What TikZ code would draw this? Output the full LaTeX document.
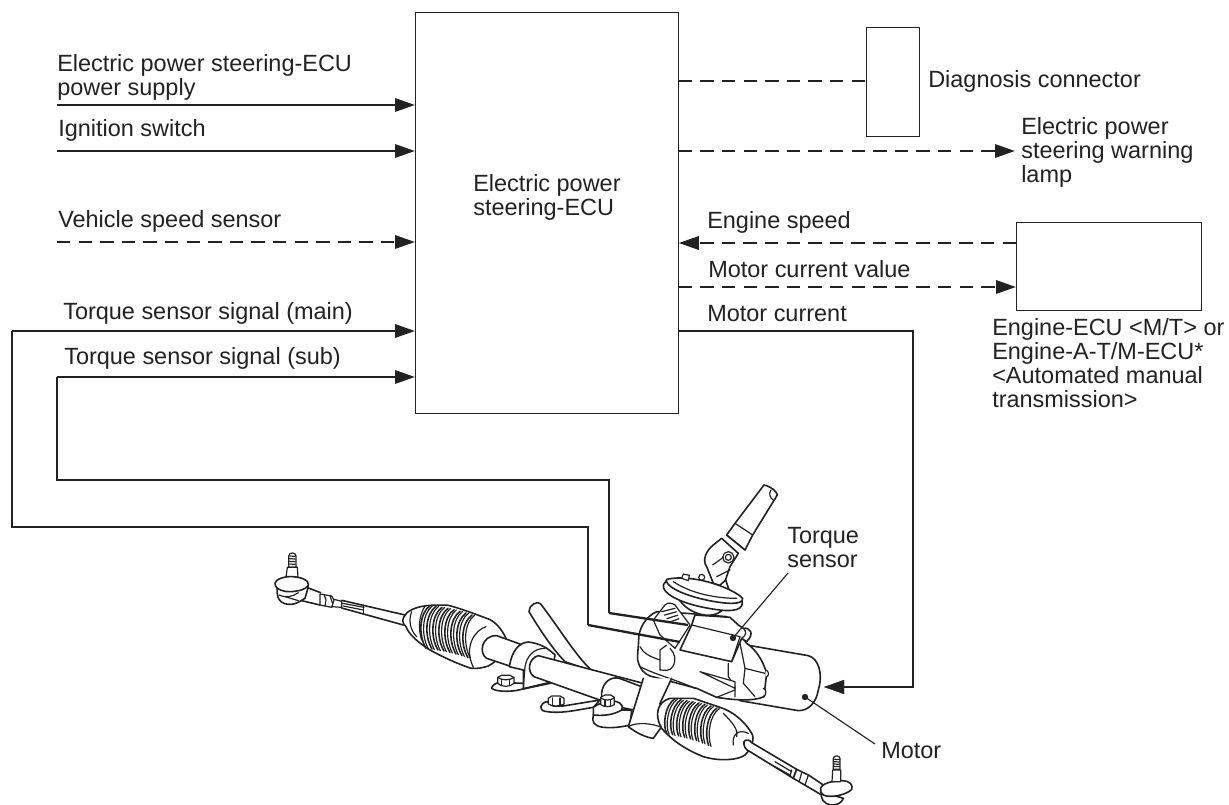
\documentclass[tikz,border=0pt]{standalone}
\usepackage{fontspec}
\setmainfont{Liberation Sans}
\usetikzlibrary{arrows.meta}
\definecolor{ink}{HTML}{222222}
\tikzset{
  lbl/.style={inner sep=0pt,anchor=base west,font=\fontsize{17.6}{18}\selectfont,align=left,text=ink},
  boxa/.style={draw=ink,line width=0.85pt,fill=white,inner sep=0pt,anchor=north west},
  wire/.style={draw=ink,line width=1.75pt},
  sig/.style={wire,-{Triangle[length=15pt,width=10pt]}},
  dsh/.style={dash pattern=on 10pt off 6.2pt},
  ldr/.style={draw=ink,line width=0.85pt},
  ol/.style={draw=ink,line width=0.9pt,line join=round,line cap=round},
  rb/.style={draw=ink,line width=1.2pt,line join=round,line cap=round},
  zA/.style={shift={(230,470)},x=0.25pt,y=-0.25pt},
  zB/.style={shift={(560,470)},x=0.25pt,y=-0.25pt},
}
\begin{document}
\begin{tikzpicture}[x=0.75pt,y=-0.75pt]
\useasboundingbox (0,0) rectangle (1229,805);
% boxes
\node[boxa,minimum width=197pt,minimum height=301pt] (ecu) at (415,12) {};
\node[boxa,minimum width=40pt,minimum height=81.5pt] (diag) at (866,27) {};
\node[boxa,minimum width=139pt,minimum height=66pt] (eng) at (1016,222) {};
% free ends
\coordinate (p1) at (57,105); \coordinate (p2) at (57,151); \coordinate (p3) at (57,242);
\coordinate (t1) at (12,331); \coordinate (t2) at (57,377);
\coordinate (lamp) at (1015,151);
\coordinate (mot) at (824,687);
\coordinate (t1e) at (680,642); \coordinate (t2e) at (688,625);
\coordinate (t1b) at (588,625); \coordinate (t2b) at (609,613);
% signals
\draw[sig] (p1) -- (p1-|ecu.west);
\draw[sig] (p2) -- (p2-|ecu.west);
\draw[sig,dsh] (p3) -- (p3-|ecu.west);
\draw[sig] (t1) -- (t1-|ecu.west);
\draw[sig] (t2) -- (t2-|ecu.west);
\draw[wire,dsh] (ecu.east|-0,81) -- (diag.west|-0,81);
\draw[sig,dsh] (ecu.east|-lamp) -- (lamp);
\draw[sig,dsh] (eng.west|-0,243) -- (ecu.east|-0,243);
\draw[sig,dsh] (ecu.east|-0,287) -- (eng.west|-0,287);
\draw[sig] (ecu.east|-0,331) -- (913,331) -- (913,687) -- (mot);
% harness
\draw[wire] (t1) -- (12,527) -- (588,527) -- (t1b);
\draw[wire] (t2) -- (57,480) -- (609,480) -- (t2b);
% ---- left half of the rack
\begin{scope}[zA]
 % stud
 \draw[ol,fill=white] (176,292) -- (176,258) .. controls (176,246) and (198,246) .. (198,258) -- (198,292) -- cycle;
 \foreach \y in {258,266,274,282} \draw[ol] (179,\y) -- (195,\y+1);
 \draw[ol,fill=white] (172,292) -- (202,292) -- (204,322) -- (168,322) -- cycle;
 % lower body
 \draw[rb,fill=white] (142,352) .. controls (138,385) and (150,405) .. (185,403) .. controls (200,402) and (212,392) .. (225,385) -- (235,350) -- cycle;
 \draw[ol] (147,375) .. controls (165,385) and (190,380) .. (205,368);
 \draw[ol] (165,380) -- (205,392);
 % cap
 \draw[rb,fill=white] (135,340) .. controls (135,328) and (165,318) .. (188,320) .. controls (215,322) and (238,330) .. (235,345) .. controls (230,360) and (190,368) .. (165,364) .. controls (145,360) and (135,352) .. (135,340) -- cycle;
 % rod
 \draw[rb] (235,354) -- (272,368); \draw[rb] (215,392) -- (270,405);
 \draw[ol,fill=white] (270,372) -- (305,378) -- (312,390) -- (305,412) -- (270,405) -- cycle;
 \draw[ol] (282,373) -- (288,390) -- (285,408);
 \draw[ol] (300,378) -- (308,400);
 \draw[ol] (312,388) -- (335,394) -- (335,412) -- (305,410);
 \draw[rb] (335,391) -- (525,435); \draw[rb] (335,414) -- (520,465);
 \draw[ol] (340,408) -- (400,420); \draw[ol] (338,400) -- (402,412);
 \draw[ol] (400,405) -- (400,430);
 % boot
 \draw[rb,fill=white] (528,432) .. controls (515,445) and (515,460) .. (528,470)
   .. controls (535,490) and (560,515) .. (600,540) .. controls (640,562) and (680,580) .. (720,594)
   .. controls (745,598) and (760,592) .. (775,588) .. controls (810,570) and (832,530) .. (828,505)
   .. controls (815,475) and (790,450) .. (770,445) .. controls (730,430) and (690,415) .. (655,406)
   .. controls (620,404) and (580,405) .. (555,415) .. controls (540,420) and (530,428) .. (528,432) -- cycle;
 \foreach \a/\d in {600/0,618/2,636/5,654/8,672/12,690/17,708/22,726/28}{
   \draw[rb] (\a,407+\d) .. controls (\a-32,430+\d) and (\a-36,495+\d) .. (\a-12,535+\d);
   \draw[ol] (\a+7,408+\d) .. controls (\a-24,432+\d) and (\a-27,495+\d) .. (\a-5,537+\d);
 }
 \draw[ol] (545,425) .. controls (535,450) and (540,480) .. (560,500);
 \draw[ol] (585,408) .. controls (565,440) and (565,480) .. (575,510);
 \draw[ol] (768,470) .. controls (735,480) and (700,530) .. (730,592);
 % tube end
 \draw[rb,fill=white] (800,497) -- (870,522) -- (845,590) -- (770,565) .. controls (745,550) and (755,495) .. (800,497) -- cycle;
 % hose
 \draw[rb,fill=white] (897,425) .. controls (930,480) and (970,540) .. (1005,575) -- (1090,605) .. controls (1045,570) and (985,470) .. (932,402) .. controls (925,390) and (895,405) .. (897,425) -- cycle;
 % clamp
 \draw[rb,fill=white] (838,590) .. controls (845,545) and (865,518) .. (895,516) .. controls (925,520) and (950,530) .. (975,555)
   -- (960,640) -- (880,657) -- (880,600) -- cycle;
 \draw[ol] (880,655) -- (885,590) .. controls (890,560) and (910,535) .. (945,535);
 % tube, on to the column
 \draw[rb,fill=white] (925,557) .. controls (895,565) and (890,605) .. (912,620) -- (1140,701) -- (1240,720) -- (1240,640) -- cycle;
 % foot and bolt
 \draw[rb,fill=white] (880,656) .. controls (860,665) and (800,668) .. (785,655) .. controls (785,645) and (800,640) .. (805,637) -- (880,640) -- cycle;
 \draw[rb] (880,656) -- (960,637);
 \draw[ol,fill=white] (803,622) -- (815,616) -- (840,616) -- (852,622) -- (852,640) .. controls (840,652) and (815,652) .. (803,640) -- cycle;
 \draw[ol] (815,628) -- (815,646); \draw[ol] (838,628) -- (838,646);
 \draw[ol] (803,622) .. controls (815,632) and (840,632) .. (852,622);
\end{scope}
% ---- centre of the rack
\begin{scope}[zB]
 % second clamp
 \draw[rb,fill=white] (125,668) .. controls (128,640) and (150,618) .. (178,625) -- (250,652) -- (245,725) -- (125,700) -- cycle;
 % long bracket
 \draw[rb,fill=white] (-40,695) .. controls (-60,700) and (-65,720) .. (-45,724) .. controls (0,732) and (40,722) .. (100,712) -- (120,690) -- (10,708) -- (-20,708) -- cycle;
 \draw[ol,fill=white] (-35,685) -- (-25,678) -- (0,678) -- (12,685) -- (12,702) .. controls (0,710) and (-25,710) .. (-35,702) -- cycle;
 \draw[ol] (-22,684) -- (-22,704); \draw[ol] (0,684) -- (0,704);
 % motor
 \draw[rb,fill=white] (560,525) -- (745,557) .. controls (775,565) and (790,610) .. (775,660)
   .. controls (768,700) and (745,722) .. (715,722) -- (540,692) -- cycle;
 % lug near column
 \draw[rb,fill=white] (100,735) .. controls (95,755) and (100,768) .. (130,772) .. controls (160,775) and (190,770) .. (210,765) -- (215,720) -- (110,720) -- cycle;
 \draw[rb,fill=white] (100,712) .. controls (115,702) and (130,695) .. (150,692) .. controls (175,692) and (195,705) .. (185,720) .. controls (160,735) and (130,738) .. (100,735) -- cycle;
 \draw[ol,fill=white] (122,682) -- (135,675) -- (152,675) -- (163,682) -- (163,704) .. controls (150,712) and (135,712) .. (122,704) -- cycle;
 \draw[ol] (122,684) .. controls (135,692) and (150,692) .. (163,684);
 \draw[ol] (135,690) -- (135,708); \draw[ol] (152,690) -- (152,708);
 % gear body
 \draw[rb,fill=white] (290,425) .. controls (255,440) and (235,480) .. (236,510) .. controls (235,535) and (232,550) .. (233,570)
   .. controls (240,600) and (255,612) .. (270,618) -- (410,655) -- (470,682) .. controls (520,690) and (580,695) .. (612,680)
   -- (620,610) .. controls (610,575) and (590,540) .. (560,520) -- (500,440) -- (380,430) -- cycle;
 \draw[ol] (240,590) .. controls (290,615) and (350,630) .. (405,655);
 \draw[ol] (240,530) .. controls (250,550) and (270,560) .. (300,570);
 \draw[ol] (300,600) .. controls (315,600) and (330,605) .. (338,590) .. controls (350,570) and (345,550) .. (330,535);
 \draw[ol] (300,600) -- (300,540) -- (320,525);
 \draw[ol] (505,580) -- (505,620) -- (525,650) -- (525,680);
 \draw[ol] (540,520) -- (555,595) -- (550,640) -- (585,680);
 \draw[ol] (555,595) -- (615,610);
 \draw[ol] (470,682) -- (525,660);
 \draw[ol,fill=white] (420,605) -- (525,635) -- (525,655) -- cycle;
 \draw[ol,fill=white] (617,600) .. controls (628,602) and (628,620) .. (618,622);
 \draw[ol,fill=white] (610,655) .. controls (620,657) and (620,677) .. (610,680);
 % column
 \draw[rb,fill=white] (250,625) -- (205,770) .. controls (230,790) and (260,803) .. (280,805) -- (305,770) -- (300,700) -- (335,625);
 \draw[ol] (205,770) .. controls (230,755) and (275,760) .. (305,772);
 % collar
 \draw[ol,fill=white] (315,405) .. controls (325,395) and (335,400) .. (345,405) -- (390,465) -- (345,535) -- (300,495) -- (280,450) -- cycle;
 \foreach \d in {0,8,16,24}\draw[ol] (305+\d,425+\d*1.3) -- (345+\d*.5,415+\d*1.3);
 % neck
 \draw[rb,fill=white] (355,385) .. controls (370,410) and (400,432) .. (440,436) .. controls (470,436) and (485,425) .. (490,415) -- (400,395) -- cycle;
 % shaft
 \draw[rb,fill=white] (525,160) -- (612,45) .. controls (635,50) and (650,65) .. (652,75) -- (578,195) -- (555,240) -- (500,195) -- cycle;
 \draw[ol] (525,160) -- (578,195); \draw[ol] (500,195) -- (555,240);
 \draw[ol] (633,60) .. controls (625,70) and (630,85) .. (640,90);
 % universal joint
 \draw[rb,fill=white] (460,225) .. controls (440,240) and (425,270) .. (440,290) -- (460,340) -- (490,350) -- (510,290) -- (535,250) -- (485,205) -- cycle;
 \draw[ol,fill=white] (505,262) circle (17);
 \draw[ol,fill=white] (505,262) circle (9);
 \draw[ol,fill=white] (425,322) circle (9);
 \draw[ol] (458,285) -- (490,262);
 \draw[ol] (470,320) -- (510,300);
 \draw[rb,fill=white] (475,350) -- (497,330) -- (510,368) -- (490,368) -- cycle;
 % flange
 \draw[rb,fill=white] (310,345) .. controls (305,370) and (360,398) .. (430,412) .. controls (500,426) and (550,428) .. (547,395) -- (320,330) -- cycle;
 \draw[rb,fill=white] (320,328) .. controls (312,345) and (360,372) .. (430,388) .. controls (500,404) and (550,405) .. (548,385) .. controls (520,355) and (400,310) .. (320,328) -- cycle;
 \draw[ol] (340,335) .. controls (400,375) and (480,385) .. (530,385);
 \draw[ol,fill=white] (365,325) -- (370,312) -- (388,316) -- (385,332) -- cycle;
 % sensor box
 \draw[rb,fill=white] (395,465) -- (405,435) -- (510,442) -- (535,465) -- (550,475) .. controls (570,472) and (585,490) .. (560,515) -- (545,505) -- (515,575) -- (360,540) -- cycle;
 \draw[ol] (395,465) -- (540,500) -- (515,575);
 \draw[ol] (550,475) .. controls (560,485) and (560,495) .. (545,505);
 % boot right
 \draw[rb,fill=white] (330,685) .. controls (295,695) and (280,730) .. (305,775) .. controls (340,815) and (380,840) .. (430,860)
   .. controls (480,875) and (535,870) .. (555,855) .. controls (575,835) and (585,805) .. (575,790)
   .. controls (555,755) and (520,725) .. (480,712) -- (400,685) -- cycle;
 \foreach \a/\d in {345/0,363/3,381/6,399/9,417/13,435/17,453/22,471/28}{
   \draw[rb] (\a,686+\d) .. controls (\a-30,705+\d) and (\a-38,765+\d) .. (\a-25,790+\d*1.3);
   \draw[ol] (\a+7,688+\d) .. controls (\a-22,707+\d) and (\a-30,765+\d) .. (\a-18,793+\d*1.3);
 }
 \draw[ol] (490,730) .. controls (520,760) and (535,780) .. (530,800);
 \draw[ol] (520,825) .. controls (515,795) and (535,775) .. (565,790);
 % rod right
 \draw[rb,fill=white] (552,815) .. controls (555,808) and (570,808) .. (575,818) -- (710,898) -- (700,925) -- (570,845) .. controls (555,840) and (550,825) .. (552,815) -- cycle;
 \draw[ol] (645,875) -- (695,905); \draw[ol] (645,890) -- (690,915); \draw[ol] (695,900) -- (690,920);
 \draw[rb,fill=white] (710,898) -- (745,915) -- (790,945) -- (785,975) -- (700,925) -- cycle;
 \draw[ol] (725,908) -- (718,933); \draw[ol] (745,915) -- (735,945);
 % stud 2
 \draw[rb,fill=white] (785,965) .. controls (780,985) and (790,1002) .. (815,1005) .. controls (830,1005) and (845,1000) .. (850,985) -- cycle;
 \draw[rb,fill=white] (782,955) .. controls (785,940) and (820,932) .. (845,932) .. controls (870,932) and (880,945) .. (875,958) .. controls (860,975) and (810,985) .. (790,975) .. controls (782,970) and (780,962) .. (782,955) -- cycle;
 \draw[ol,fill=white] (818,900) -- (842,900) -- (842,935) -- (816,935) -- cycle;
 \draw[ol,fill=white] (820,865) .. controls (822,855) and (838,855) .. (840,865) -- (840,898) -- (820,898) -- cycle;
 \foreach \y in {868,875,882,889}\draw[ol] (822,\y) -- (838,\y+1);
\end{scope}
% harness ends over the rack
\draw[wire] (t1b) -- (t1e);
\draw[wire] (t2b) -- (t2e);
% motor arrow
\draw[sig] (913,687) -- (mot);
% leaders
\coordinate (tsdot) at (733,638); \coordinate (tslead) at (788,573);
\coordinate (mdot) at (805,697); \coordinate (mlead) at (875,744);
\draw[ldr] (tslead) -- (tsdot); \fill[ink] (tsdot) circle (3.2);
\draw[ldr] (mlead) -- (mdot); \fill[ink] (mdot) circle (3.2);
% labels (base = last line)
\node[lbl] (l1) at (57,96) {Electric power steering-ECU\\power supply};
\node[lbl] (l2) at (58,137) {Ignition switch};
\node[lbl] (l3) at (58,228) {Vehicle speed sensor};
\node[lbl] (l4) at (63,320) {Torque sensor signal (main)};
\node[lbl] (l5) at (64,365) {Torque sensor signal (sub)};
\node[lbl] (l6) at (473,216) {Electric power\\steering-ECU};
\node[lbl] (l7) at (928,88) {Diagnosis connector};
\node[lbl] (l8) at (1021,183) {Electric power\\steering warning\\lamp};
\node[lbl] (l9) at (707,229) {Engine speed};
\node[lbl] (l10) at (708,278) {Motor current value};
\node[lbl] (l11) at (707,322) {Motor current};
\node[lbl] (l12) at (992,408) {Engine-ECU <M/T> or\\Engine-A-T/M-ECU*\\<Automated manual\\transmission>};
\node[lbl] (l13) at (787,568) {Torque\\sensor};
\node[lbl] (l14) at (881,758) {Motor};
\end{tikzpicture}
\end{document}
